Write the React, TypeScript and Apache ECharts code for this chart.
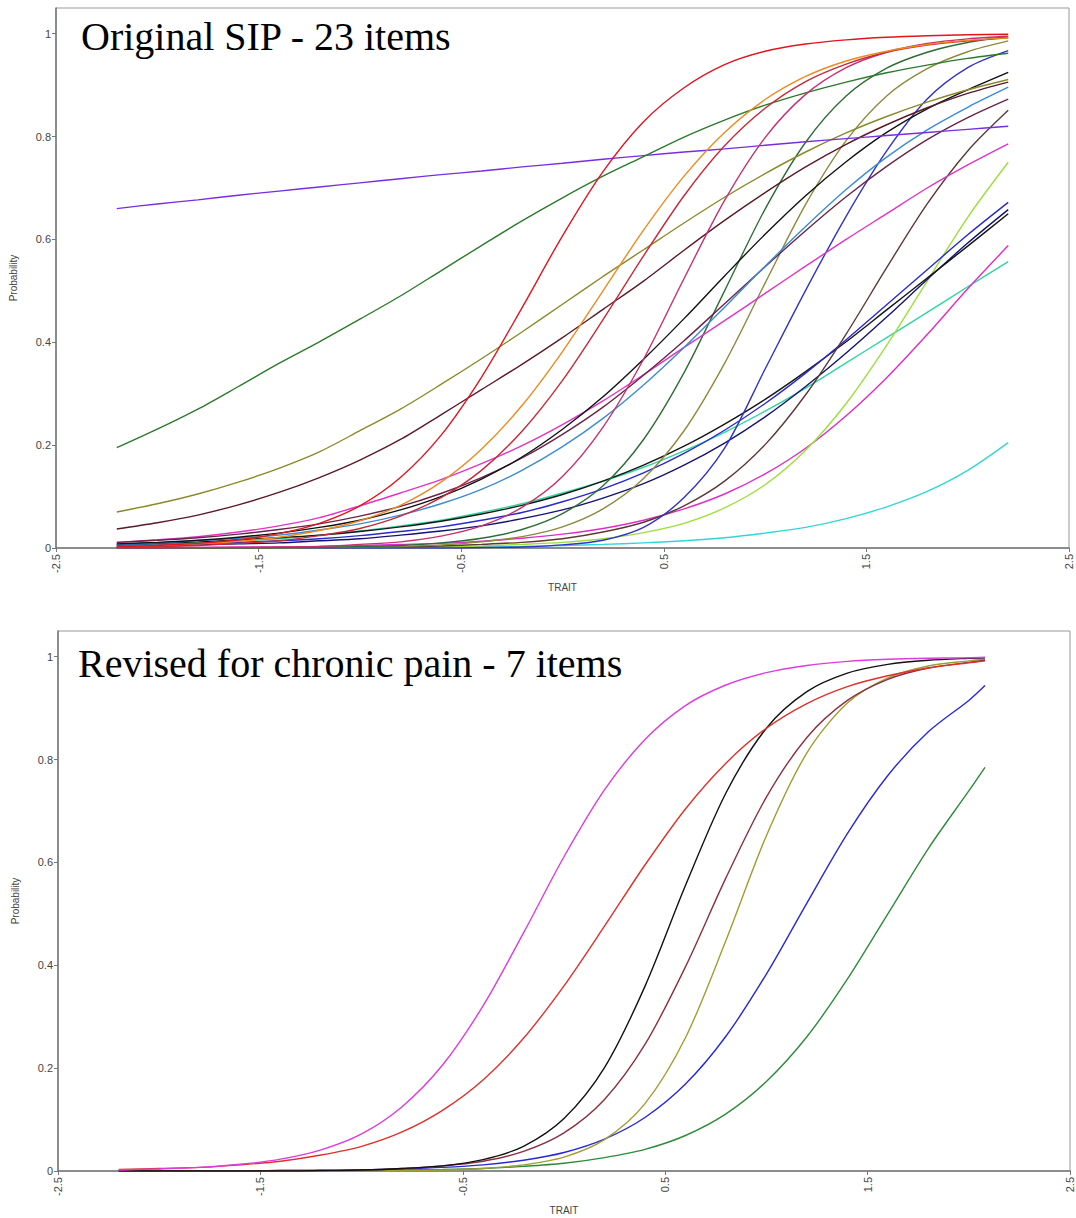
import React, { useEffect, useRef } from "react";
import * as echarts from "echarts";

// ---------- tick labels ----------
const xTicks = [-2.5, -1.5, -0.5, 0.5, 1.5, 2.5];
const yTicks = [0, 0.2, 0.4, 0.6, 0.8, 1];

// ---------- top chart: Original SIP - 23 items ----------
const traitTop = [-2.2, -2.0, -1.8, -1.6, -1.4, -1.2, -1.0, -0.8, -0.6, -0.4, -0.2, 0, 0.2, 0.4, 0.6, 0.8, 1.0, 1.2, 1.4, 1.6, 1.8, 2.0, 2.2];

const topRed = [0.003, 0.005, 0.009, 0.016, 0.028, 0.048, 0.082, 0.137, 0.219, 0.332, 0.467, 0.607, 0.732, 0.829, 0.895, 0.940, 0.966, 0.980, 0.988, 0.993, 0.996, 0.998, 0.999];
const topOrange = [0.003, 0.005, 0.008, 0.013, 0.021, 0.034, 0.053, 0.083, 0.128, 0.192, 0.277, 0.382, 0.5, 0.618, 0.723, 0.808, 0.872, 0.917, 0.947, 0.966, 0.979, 0.987, 0.992];
const topCrimson = [0.002, 0.003, 0.005, 0.009, 0.014, 0.024, 0.038, 0.062, 0.098, 0.151, 0.227, 0.326, 0.444, 0.568, 0.685, 0.782, 0.855, 0.907, 0.941, 0.964, 0.978, 0.986, 0.992];
const topRose = [0, 0, 0.001, 0.001, 0.002, 0.003, 0.007, 0.012, 0.023, 0.043, 0.079, 0.139, 0.235, 0.367, 0.524, 0.676, 0.798, 0.882, 0.934, 0.964, 0.981, 0.990, 0.995];
const topGreenLow = [0.195, 0.231, 0.270, 0.314, 0.359, 0.401, 0.445, 0.490, 0.539, 0.588, 0.636, 0.681, 0.723, 0.761, 0.799, 0.832, 0.861, 0.885, 0.906, 0.924, 0.939, 0.952, 0.962];
const topPurple = [0.660, 0.669, 0.677, 0.686, 0.694, 0.702, 0.710, 0.718, 0.726, 0.733, 0.741, 0.748, 0.756, 0.763, 0.770, 0.776, 0.783, 0.790, 0.796, 0.802, 0.808, 0.814, 0.820];
const topOliveLow = [0.070, 0.086, 0.105, 0.128, 0.155, 0.187, 0.228, 0.270, 0.318, 0.368, 0.420, 0.474, 0.528, 0.580, 0.632, 0.682, 0.728, 0.770, 0.807, 0.839, 0.867, 0.891, 0.911];
const topBrownLow = [0.037, 0.049, 0.064, 0.084, 0.108, 0.137, 0.171, 0.211, 0.259, 0.308, 0.357, 0.409, 0.464, 0.519, 0.579, 0.637, 0.691, 0.741, 0.785, 0.823, 0.856, 0.884, 0.906];
const topBlackA = [0.008, 0.011, 0.015, 0.021, 0.029, 0.040, 0.054, 0.074, 0.100, 0.134, 0.177, 0.231, 0.294, 0.367, 0.446, 0.529, 0.610, 0.685, 0.751, 0.808, 0.854, 0.891, 0.925];
const topSteel = [0.007, 0.010, 0.014, 0.019, 0.025, 0.035, 0.047, 0.064, 0.086, 0.114, 0.151, 0.197, 0.252, 0.317, 0.390, 0.468, 0.548, 0.625, 0.697, 0.760, 0.813, 0.857, 0.896];
const topMaroon = [0.011, 0.015, 0.020, 0.027, 0.036, 0.047, 0.062, 0.081, 0.106, 0.137, 0.175, 0.221, 0.274, 0.336, 0.403, 0.475, 0.547, 0.617, 0.683, 0.742, 0.794, 0.837, 0.873];
const topMagentaLow = [0.011, 0.016, 0.022, 0.031, 0.043, 0.059, 0.082, 0.107, 0.133, 0.164, 0.199, 0.240, 0.286, 0.337, 0.390, 0.442, 0.495, 0.548, 0.600, 0.650, 0.700, 0.745, 0.786];
const topGreenSteep = [0, 0, 0, 0, 0.001, 0.001, 0.003, 0.005, 0.010, 0.019, 0.036, 0.067, 0.121, 0.211, 0.341, 0.5, 0.659, 0.789, 0.879, 0.933, 0.964, 0.983, 0.994];
const topOliveSteep = [0, 0, 0, 0, 0, 0.001, 0.002, 0.003, 0.006, 0.012, 0.022, 0.041, 0.076, 0.135, 0.228, 0.359, 0.515, 0.668, 0.792, 0.879, 0.932, 0.965, 0.986];
const topBlueSteep = [0, 0, 0, 0, 0, 0, 0, 0, 0, 0.001, 0.002, 0.006, 0.015, 0.040, 0.098, 0.194, 0.348, 0.501, 0.645, 0.772, 0.873, 0.934, 0.967];
const topBrownSteep = [0, 0, 0, 0, 0, 0.001, 0.001, 0.002, 0.004, 0.007, 0.011, 0.018, 0.031, 0.050, 0.082, 0.130, 0.201, 0.298, 0.416, 0.545, 0.669, 0.772, 0.851];
const topLime = [0, 0, 0, 0, 0, 0.001, 0.001, 0.001, 0.002, 0.004, 0.007, 0.011, 0.018, 0.030, 0.048, 0.078, 0.123, 0.190, 0.281, 0.394, 0.519, 0.643, 0.750];
const topMagentaHigh = [0.001, 0.001, 0.001, 0.002, 0.002, 0.003, 0.005, 0.007, 0.009, 0.013, 0.019, 0.027, 0.038, 0.054, 0.076, 0.105, 0.144, 0.194, 0.257, 0.331, 0.415, 0.504, 0.588];
const topTeal = [0.006, 0.007, 0.010, 0.014, 0.018, 0.025, 0.033, 0.043, 0.054, 0.069, 0.086, 0.107, 0.130, 0.157, 0.189, 0.225, 0.266, 0.311, 0.360, 0.409, 0.458, 0.508, 0.557];
const topBlackB = [0.007, 0.009, 0.012, 0.016, 0.020, 0.025, 0.032, 0.041, 0.052, 0.066, 0.083, 0.104, 0.130, 0.161, 0.198, 0.241, 0.289, 0.343, 0.401, 0.463, 0.525, 0.587, 0.650];
const topBlueB = [0.005, 0.006, 0.008, 0.011, 0.014, 0.018, 0.024, 0.032, 0.041, 0.054, 0.069, 0.090, 0.115, 0.146, 0.184, 0.229, 0.281, 0.340, 0.405, 0.473, 0.541, 0.609, 0.672];
const topNavy = [0.003, 0.004, 0.006, 0.008, 0.010, 0.014, 0.018, 0.025, 0.033, 0.043, 0.057, 0.074, 0.097, 0.125, 0.161, 0.204, 0.255, 0.314, 0.379, 0.449, 0.522, 0.593, 0.658];
const topCyan = [0, 0, 0, 0, 0, 0.001, 0.001, 0.001, 0.002, 0.002, 0.003, 0.005, 0.007, 0.010, 0.014, 0.020, 0.029, 0.040, 0.057, 0.080, 0.110, 0.151, 0.205];

// ---------- bottom chart: Revised for chronic pain - 7 items ----------
const traitBottom = [-2.2, -2.0, -1.8, -1.6, -1.4, -1.2, -1.0, -0.8, -0.6, -0.4, -0.2, 0, 0.2, 0.4, 0.6, 0.8, 1.0, 1.2, 1.4, 1.6, 1.8, 2.0, 2.08];

const botMagenta = [0.002, 0.004, 0.007, 0.013, 0.023, 0.041, 0.072, 0.125, 0.206, 0.321, 0.463, 0.611, 0.741, 0.839, 0.905, 0.945, 0.969, 0.983, 0.991, 0.995, 0.997, 0.998, 0.999];
const botRed = [0.003, 0.005, 0.007, 0.012, 0.019, 0.031, 0.048, 0.076, 0.118, 0.177, 0.258, 0.360, 0.476, 0.595, 0.704, 0.793, 0.861, 0.909, 0.942, 0.963, 0.978, 0.988, 0.992];
const botBlack = [0, 0, 0, 0, 0, 0.001, 0.002, 0.005, 0.010, 0.022, 0.048, 0.102, 0.201, 0.359, 0.555, 0.735, 0.861, 0.932, 0.968, 0.985, 0.993, 0.997, 0.998];
const botMaroon = [0, 0, 0, 0, 0.001, 0.001, 0.002, 0.005, 0.010, 0.019, 0.038, 0.074, 0.139, 0.246, 0.397, 0.570, 0.727, 0.843, 0.915, 0.956, 0.978, 0.989, 0.993];
const botOlive = [0, 0, 0, 0, 0, 0, 0, 0.001, 0.002, 0.005, 0.012, 0.027, 0.061, 0.131, 0.259, 0.448, 0.652, 0.813, 0.910, 0.959, 0.982, 0.992, 0.995];
const botBlue = [0, 0, 0, 0, 0.001, 0.001, 0.002, 0.004, 0.007, 0.012, 0.021, 0.036, 0.062, 0.104, 0.169, 0.262, 0.383, 0.521, 0.656, 0.769, 0.854, 0.915, 0.944];
const botGreen = [0, 0, 0, 0, 0, 0.001, 0.001, 0.002, 0.003, 0.005, 0.009, 0.015, 0.026, 0.042, 0.069, 0.111, 0.174, 0.261, 0.373, 0.5, 0.627, 0.739, 0.785];

const topItems = [
  { values: topCyan, color: "#33D6D6" },
  { values: topTeal, color: "#2FD6A0" },
  { values: topMagentaHigh, color: "#E02CC8" },
  { values: topLime, color: "#9BE03A" },
  { values: topNavy, color: "#141470" },
  { values: topBlackB, color: "#151515" },
  { values: topBlueB, color: "#2A2ACC" },
  { values: topBrownSteep, color: "#5E3838" },
  { values: topBlueSteep, color: "#3232C8" },
  { values: topOliveSteep, color: "#8C8A3C" },
  { values: topGreenSteep, color: "#2E6E36" },
  { values: topMagentaLow, color: "#E232C8" },
  { values: topMaroon, color: "#6A2448" },
  { values: topSteel, color: "#3C8CD2" },
  { values: topBlackA, color: "#111111" },
  { values: topBrownLow, color: "#5A1A28" },
  { values: topOliveLow, color: "#8A8A2A" },
  { values: topPurple, color: "#7A2CE0" },
  { values: topGreenLow, color: "#2B7A2B" },
  { values: topRose, color: "#C8306E" },
  { values: topCrimson, color: "#C8283A" },
  { values: topOrange, color: "#EE8A1E" },
  { values: topRed, color: "#E3141E" },
];

const bottomItems = [
  { values: botGreen, color: "#2E8B3A" },
  { values: botBlue, color: "#2828D8" },
  { values: botOlive, color: "#A09E30" },
  { values: botMaroon, color: "#8B3040" },
  { values: botBlack, color: "#111111" },
  { values: botRed, color: "#E0302A" },
  { values: botMagenta, color: "#DC3CE0" },
];

const labelFont = { color: "#444", fontSize: 11, fontFamily: "'Liberation Sans', Arial, sans-serif" };
const nameFont = { color: "#444", fontSize: 10, fontFamily: "'Liberation Sans', Arial, sans-serif" };

function makeX(gridIndex: number) {
  return {
    type: "value",
    gridIndex,
    min: -2.5,
    max: 2.5,
    name: "TRAIT",
    nameLocation: "middle",
    nameGap: 34,
    nameTextStyle: nameFont,
    axisLine: { show: true, onZero: false, lineStyle: { color: "#777", width: 1.5 } },
    axisTick: { show: true, length: 4, customValues: xTicks, lineStyle: { color: "#777" } },
    axisLabel: { customValues: xTicks, rotate: 90, margin: 6, ...labelFont, formatter: (v: number) => String(v) },
    splitLine: { show: false },
  };
}

function makeY(gridIndex: number) {
  return {
    type: "value",
    gridIndex,
    min: 0,
    max: 1.05,
    name: "Probability",
    nameLocation: "middle",
    nameGap: 38,
    nameRotate: 90,
    nameTextStyle: nameFont,
    axisLine: { show: true, onZero: false, lineStyle: { color: "#777", width: 1.5 } },
    axisTick: { show: true, length: 4, customValues: yTicks, lineStyle: { color: "#777" } },
    axisLabel: { customValues: yTicks, margin: 5, ...labelFont, formatter: (v: number) => String(v) },
    splitLine: { show: false },
  };
}

function makeSeries(items: { values: number[]; color: string }[], xs: number[], idx: number) {
  return items.map((it) => ({
    type: "line",
    xAxisIndex: idx,
    yAxisIndex: idx,
    data: xs.map((x, i) => [x, it.values[i]]),
    showSymbol: false,
    symbol: "none",
    smooth: 0.3,
    silent: true,
    lineStyle: { color: it.color, width: 1.4 },
  }));
}

export default function App() {
  const ref = useRef<HTMLDivElement>(null);
  useEffect(() => {
    if (!ref.current) return;
    const chart = echarts.init(ref.current, null, { renderer: "svg" });
    chart.setOption({
      animation: false,
      backgroundColor: "#ffffff",
      grid: [
        { left: 56, top: 8, width: 1013, height: 540, show: true, borderColor: "#999", borderWidth: 1 },
        { left: 58, top: 631, width: 1012, height: 540, show: true, borderColor: "#999", borderWidth: 1 },
      ],
      xAxis: [makeX(0), makeX(1)],
      yAxis: [makeY(0), makeY(1)],
      series: [...makeSeries(topItems, traitTop, 0), ...makeSeries(bottomItems, traitBottom, 1)],
      graphic: [
        {
          type: "text",
          left: 81,
          top: 16,
          style: { text: "Original SIP - 23 items", font: "40px 'Liberation Serif', 'Times New Roman', serif", fill: "#000" },
        },
        {
          type: "text",
          left: 78,
          top: 643,
          style: { text: "Revised for chronic pain - 7 items", font: "40px 'Liberation Serif', 'Times New Roman', serif", fill: "#000" },
        },
      ],
    });
    return () => chart.dispose();
  }, []);
  return (
    <div
      ref={ref}
      style={{ position: "absolute", left: 0, top: 0, width: 1076, height: 1218, background: "#fff" }}
    />
  );
}
